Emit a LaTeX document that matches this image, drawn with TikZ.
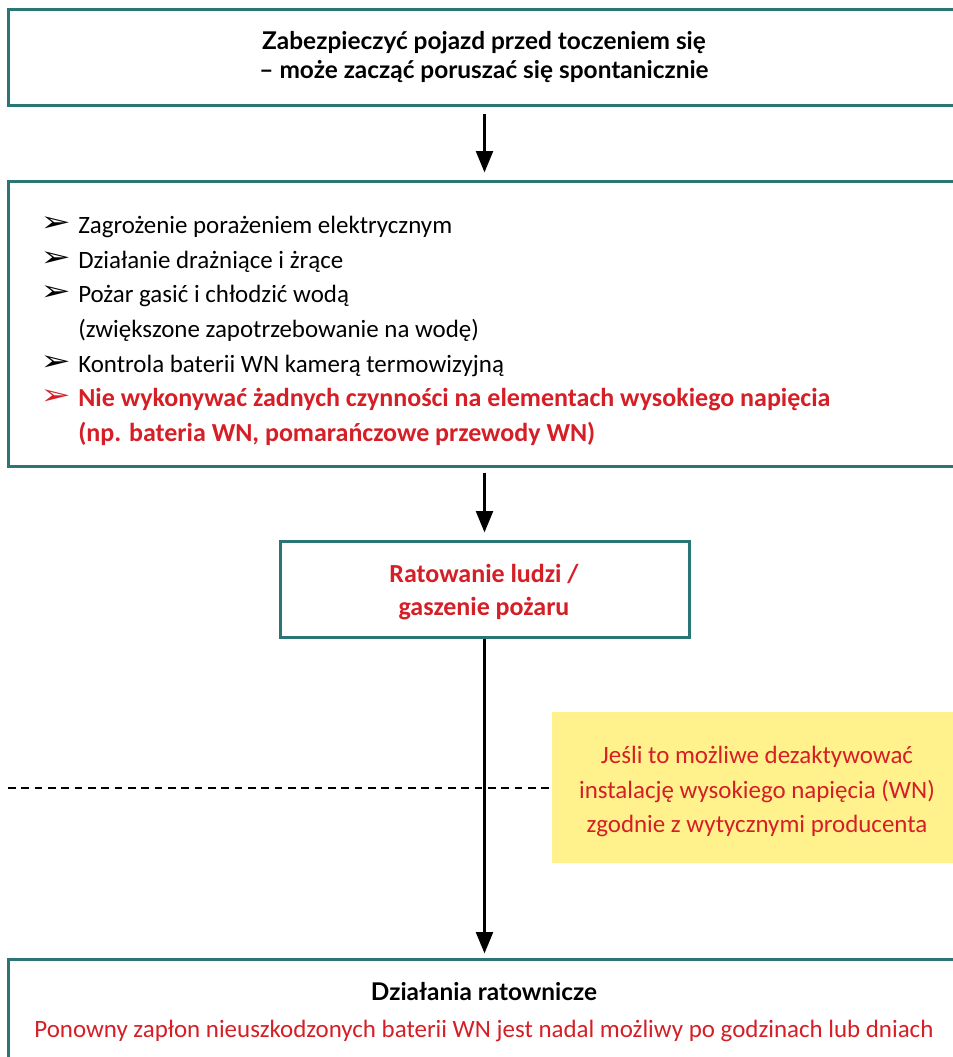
\documentclass[tikz,border=0pt]{standalone}
\usepackage{fontspec}
\setmainfont{Carlito}
\newfontfamily\headfont{Lato}
\newfontfamily\symfont{DejaVu Sans}
\usetikzlibrary{arrows.meta,fit,calc}
\definecolor{teal1}{RGB}{43,117,118}
\definecolor{red1}{RGB}{213,30,38}
\definecolor{yel}{RGB}{255,242,140}
\newcommand{\bulglyph}{\scalebox{1.7}[1.3]{➢}}
\tikzset{
 box/.style={draw=teal1, line width=2.25pt, inner sep=0pt},
 note/.style={fill=yel, draw=none, inner sep=0pt},
 flow/.style={line width=2.25pt, -{Triangle[length=16pt,width=12.5pt]}},
 dline/.style={line width=2pt, dash pattern=on 5.8pt off 4.2pt},
 txt/.style={inner sep=0pt, font=\fontsize{18.7}{21}\selectfont},
 redt/.style={txt, text=red1},
 head/.style={inner sep=0pt, font=\headfont\bfseries\fontsize{18.3}{21}\selectfont},
 bul/.style={inner sep=0pt, font=\symfont\fontsize{16}{18}\selectfont},
 redb/.style={inner sep=0pt, text=red1, font=\bfseries\fontsize{19.5}{22}\selectfont},
}
\begin{document}
\begin{tikzpicture}[x=0.75pt,y=-0.75pt]
\clip (0,0) rectangle (953,1057);
\fill[white] (0,0) rectangle (953,1057);
% boxes
\node[box, fit={(8,9) (975,105)}] (b1) {};
\node[box, fit={(8,181) (975,466)}] (b2) {};
\node[box, fit={(280,541) (689,637)}] (b3) {};
\node[note, fit={(552,712) (975,863)}] (y) {};
\node[box, fit={(8,959) (975,1080)}] (b4) {};
% top text
\node[head, anchor=base] (t1) at (484,49) {Zabezpieczyć pojazd przed toczeniem się};
\node[head, anchor=base] (t2) at (484,78) {– może zacząć poruszać się spontanicznie};
% list
\node[bul, anchor=base west] (u1) at (40,231) {\bulglyph};
\node[txt, anchor=base west] (l1) at (78,233) {Zagrożenie porażeniem elektrycznym};
\node[bul, anchor=base west] (u2) at (40,266) {\bulglyph};
\node[txt, anchor=base west] (l2) at (78,268) {Działanie drażniące i żrące};
\node[bul, anchor=base west] (u3) at (40,300) {\bulglyph};
\node[txt, anchor=base west] (l3) at (78,302) {Pożar gasić i chłodzić wodą};
\node[txt, anchor=base west] (l3b) at (78,337) {(zwiększone zapotrzebowanie na wodę)};
\node[bul, anchor=base west] (u4) at (40,370) {\bulglyph};
\node[txt, anchor=base west] (l4) at (78,372) {Kontrola baterii WN kamerą termowizyjną};
\node[bul, anchor=base west, text=red1] (u5) at (40,404) {\bulglyph};
\node[redb, anchor=base west] (l5) at (78,406) {Nie wykonywać żadnych czynności na elementach wysokiego napięcia};
\node[redb, anchor=base west] (l5b) at (78,441) {(np. bateria WN, pomarańczowe przewody WN)};
% box 3 text
\node[redb, anchor=base] (r1) at (484,582) {Ratowanie ludzi /};
\node[redb, anchor=base] (r2) at (484,615) {gaszenie pożaru};
% yellow text
\node[redt, anchor=base] (y1) at (757,763) {Jeśli to możliwe dezaktywować};
\node[redt, anchor=base] (y2) at (757,798) {instalację wysokiego napięcia (WN)};
\node[redt, anchor=base] (y3) at (757,832) {zgodnie z wytycznymi producenta};
% bottom text
\node[head, anchor=base] (d1) at (484,1000) {Działania ratownicze};
\node[redt, anchor=base] (d2) at (484,1037) {Ponowny zapłon nieuszkodzonych baterii WN jest nadal możliwy po godzinach lub dniach};
% connectors
\coordinate (dl) at (8,788);
\draw[dline] (dl) -- (dl -| y.west);
\draw[flow, shorten <=5.25pt, shorten >=5.25pt] (b1.south -| b3.north) -- (b2.north -| b3.north);
\draw[flow, shorten <=3.75pt, shorten >=5.25pt] (b2.south -| b3.north) -- (b3.north);
\draw[flow, shorten >=3pt] (b3.south) -- (b4.north -| b3.south);
\end{tikzpicture}
\end{document}
